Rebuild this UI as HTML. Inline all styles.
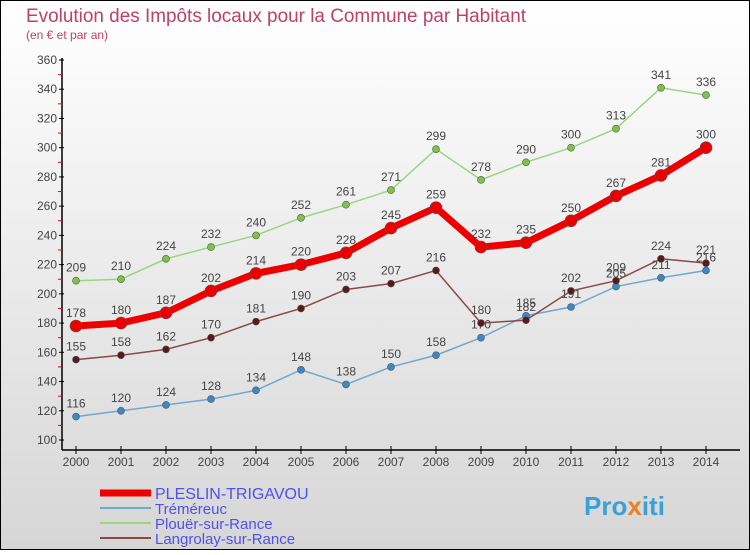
<!DOCTYPE html>
<html><head><meta charset="utf-8"><style>
body{margin:0}
#c{width:750px;height:550px;position:relative;font-family:"Liberation Sans",sans-serif}
</style></head><body>
<div id="c">
<svg id="s" width="750" height="550" xmlns="http://www.w3.org/2000/svg" font-family="Liberation Sans, sans-serif">
<defs><linearGradient id="bg" x1="0" y1="0" x2="0" y2="1"><stop offset="0" stop-color="#ffffff"/><stop offset="1" stop-color="#d6d6d6"/></linearGradient></defs>
<rect x="0.5" y="0.5" width="749" height="549" fill="url(#bg)" stroke="#000"/>
<text x="26" y="22" font-size="19" fill="#c0406a" textLength="500" lengthAdjust="spacingAndGlyphs">Evolution des Impôts locaux pour la Commune par Habitant</text>
<text x="26" y="39" font-size="12" fill="#c0406a">(en € et par an)</text>
<g id="axes"></g><g id="series"></g><g id="legend"></g>
<text x="584" y="515" font-size="26" font-weight="bold" fill="#3aa0d8">Pro<tspan fill="#f08020">x</tspan>iti</text>
</svg></div>
<script>
const years=[2000,2001,2002,2003,2004,2005,2006,2007,2008,2009,2010,2011,2012,2013,2014];
const yTicks=[100,120,140,160,180,200,220,240,260,280,300,320,340,360];
const pleslin=[178,180,187,202,214,220,228,245,259,232,235,250,267,281,300];
const tremereuc=[116,120,124,128,134,148,138,150,158,170,185,191,205,211,216];
const plouer=[209,210,224,232,240,252,261,271,299,278,290,300,313,341,336];
const langrolay=[155,158,162,170,181,190,203,207,216,180,182,202,209,224,221];
const NS="http://www.w3.org/2000/svg";
function X(i){return 76+i*45;}
function Y(v){return 440-(v-100)*380/260;}
function mk(t,a,p){const e=document.createElementNS(NS,t);for(const k in a)e.setAttribute(k,a[k]);p.appendChild(e);return e;}
const ax=document.getElementById('axes');
let e=mk('line',{x1:62,y1:58,x2:62,y2:450,stroke:'#000','stroke-width':1.5},ax);


e=mk('line',{x1:62,y1:450,x2:740,y2:450,stroke:'#000','stroke-width':1.5},ax);


yTicks.forEach((v,i)=>{
 mk('line',{x1:59,y1:Y(v),x2:64,y2:Y(v),stroke:'#000'},ax);
 if(i<yTicks.length-1)mk('line',{x1:58,y1:Y(v+10),x2:62,y2:Y(v+10),stroke:'#e00'},ax);
 const t=mk('text',{x:57,y:Y(v)+4,'font-size':12,fill:'#444','text-anchor':'end'},ax);t.textContent=v;
 
 
});
years.forEach((y,i)=>{
 mk('line',{x1:X(i),y1:446,x2:X(i),y2:454,stroke:'#000'},ax);
 const t=mk('text',{x:X(i),y:466,'font-size':12,fill:'#444','text-anchor':'middle'},ax);t.textContent=y;
 
 
});
const sg=document.getElementById('series');
function series(data,color,w,r,name,dotc){
 const g=mk('g',{},sg);
 
 
 mk('polyline',{points:data.map((v,i)=>X(i)+','+Y(v)).join(' '),fill:'none',stroke:color,'stroke-width':w},g);
 data.forEach((v,i)=>{
  const c=mk('circle',{cx:X(i),cy:Y(v),r:r,fill:dotc,stroke:'#555','stroke-width':0.6},g);
  
  
  const t=mk('text',{x:X(i),y:Y(v)-9,'font-size':12,fill:'#444','text-anchor':'middle'},g);t.textContent=v;
  
  
 });
}
series(plouer,'#99d680',1.5,3.5,'plouer','#7cc444');
series(tremereuc,'#70a8d0',1.5,3.5,'tremereuc','#3a88c8');
series(langrolay,'#8a4848',1.5,3.5,'langrolay','#5a1a1a');
series(pleslin,'#ee0000',7,6,'pleslin','#ee0000');
const lg=document.getElementById('legend');
[['PLESLIN-TRIGAVOU','#ee0000',7],['Tréméreuc','#70a8d0',2],['Plouër-sur-Rance','#99d680',2],['Langrolay-sur-Rance','#8a4848',2]].forEach((d,i)=>{
 const y=493+i*15;
 const l=mk('line',{x1:100,y1:y,x2:151,y2:y,stroke:d[1],'stroke-width':d[2]},lg);
 
 
 const t=mk('text',{x:155,y:y+6,'font-size':i==0?16:15,fill:'#5050ee'},lg);t.textContent=d[0];
 
 
});
</script>
</body></html>
